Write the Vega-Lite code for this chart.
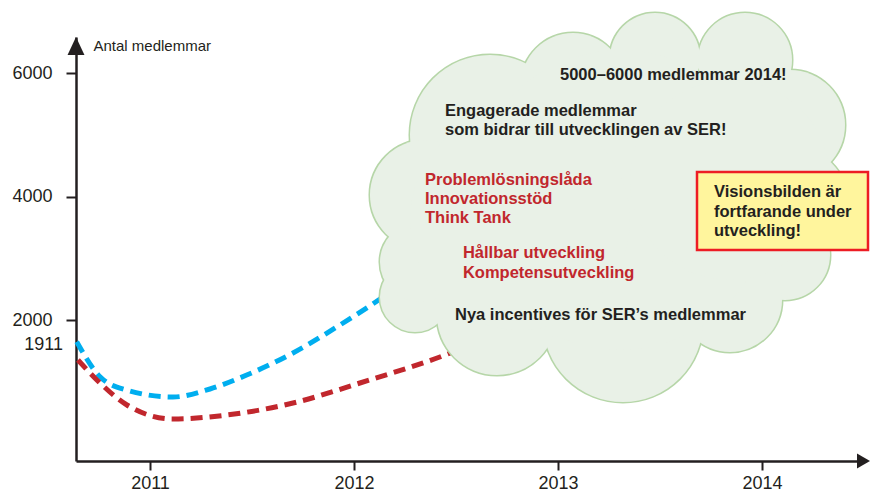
{
  "$schema": "https://vega.github.io/schema/vega-lite/v6.json",
  "width": 781,
  "height": 424,
  "autosize": {"type": "none"},
  "padding": {"left": 76, "top": 37, "right": 13, "bottom": 30},
  "background": "white",
  "config": {"view": {"stroke": null}, "font": "Liberation Sans"},
  "datasets": {
    "kurvor": [
      {"serie": "övre", "x": 2010.6407, "y": 1649},
      {"serie": "övre", "x": 2010.7549, "y": 1082},
      {"serie": "övre", "x": 2010.8858, "y": 866},
      {"serie": "övre", "x": 2011.1127, "y": 753},
      {"serie": "övre", "x": 2011.2941, "y": 883},
      {"serie": "övre", "x": 2011.474, "y": 1109},
      {"serie": "övre", "x": 2011.701, "y": 1466},
      {"serie": "övre", "x": 2011.931, "y": 1919},
      {"serie": "övre", "x": 2012.142, "y": 2372},
      {"serie": "övre", "x": 2012.225, "y": 2567},
      {"serie": "undre", "x": 2010.647, "y": 1352},
      {"serie": "undre", "x": 2010.755, "y": 980},
      {"serie": "undre", "x": 2010.887, "y": 624},
      {"serie": "undre", "x": 2011.113, "y": 397},
      {"serie": "undre", "x": 2011.377, "y": 462},
      {"serie": "undre", "x": 2011.701, "y": 656},
      {"serie": "undre", "x": 2012.029, "y": 980},
      {"serie": "undre", "x": 2012.485, "y": 1482},
      {"serie": "undre", "x": 2012.569, "y": 1595}
    ],
    "moln": [
      {"x": 2012.6667, "y": 4996, "r": 0.3922},
      {"x": 2013.0735, "y": 5806, "r": 0.2549},
      {"x": 2013.4755, "y": 6243, "r": 0.2206},
      {"x": 2013.9167, "y": 6210, "r": 0.2304},
      {"x": 2014.1373, "y": 5158, "r": 0.2696},
      {"x": 2014.1618, "y": 3943, "r": 0.2549},
      {"x": 2014.1127, "y": 3053, "r": 0.2206},
      {"x": 2013.8431, "y": 2324, "r": 0.2549},
      {"x": 2013.3186, "y": 1968, "r": 0.3922},
      {"x": 2012.701, "y": 2081, "r": 0.2941},
      {"x": 2012.299, "y": 2372, "r": 0.1716},
      {"x": 2012.3235, "y": 2939, "r": 0.1961},
      {"x": 2012.348, "y": 4024, "r": 0.2696},
      {"x": 2013.304, "y": 3943, "r": 0.7353},
      {"x": 2012.8137, "y": 3619, "r": 0.5392},
      {"x": 2013.8431, "y": 4267, "r": 0.4902}
    ],
    "texter": [
      {"x": 2013.0098, "y": 5968, "text": "5000–6000 medlemmar 2014!", "typ": "svart"},
      {"x": 2012.446, "y": 5385, "text": "Engagerade medlemmar", "typ": "svart"},
      {"x": 2012.446, "y": 5077, "text": "som bidrar till utvecklingen av SER!", "typ": "svart"},
      {"x": 2012.348, "y": 4267, "text": "Problemlösningslåda", "typ": "röd"},
      {"x": 2012.348, "y": 3959, "text": "Innovationsstöd", "typ": "röd"},
      {"x": 2012.348, "y": 3652, "text": "Think Tank", "typ": "röd"},
      {"x": 2012.534, "y": 3085, "text": "Hållbar utveckling", "typ": "röd"},
      {"x": 2012.534, "y": 2761, "text": "Kompetensutveckling", "typ": "röd"},
      {"x": 2012.495, "y": 2081, "text": "Nya incentives för SER’s medlemmar", "typ": "svart"},
      {"x": 2013.7647, "y": 4073, "text": "Visionsbilden är", "typ": "svart"},
      {"x": 2013.7647, "y": 3749, "text": "fortfarande under", "typ": "svart"},
      {"x": 2013.7647, "y": 3441, "text": "utveckling!", "typ": "svart"}
    ]
  },
  "encoding": {
    "x": {
      "field": "x", "type": "quantitative",
      "scale": {"domain": [2010.6373, 2014.4657], "nice": false, "zero": false},
      "axis": {
        "values": [2011, 2012, 2013, 2014], "format": "d", "title": null, "grid": false,
        "domainColor": "#231f20", "domainWidth": 2.5,
        "tickColor": "#231f20", "tickWidth": 2, "tickSize": 9,
        "labelFontSize": 18, "labelColor": "#231f20", "labelPadding": 4, "labelFont": "Liberation Sans"
      }
    },
    "y": {
      "field": "y", "type": "quantitative",
      "scale": {"domain": [-283, 6583], "nice": false, "zero": false},
      "axis": {
        "values": [2000, 4000, 6000], "format": "d", "grid": false,
        "title": "Antal medlemmar", "titleAngle": 0, "titleAlign": "left", "titleBaseline": "middle",
        "titleX": 17, "titleY": 8, "titleFontSize": 15, "titleFontWeight": "normal", "titleColor": "#231f20", "titleFont": "Liberation Sans",
        "domainColor": "#231f20", "domainWidth": 2.5,
        "tickColor": "#231f20", "tickWidth": 2, "tickSize": 10,
        "labelFontSize": 18, "labelColor": "#231f20", "labelPadding": 14, "labelFont": "Liberation Sans"
      }
    }
  },
  "layer": [
    {
      "data": {"name": "kurvor"},
      "mark": {"type": "line", "interpolate": "monotone", "strokeWidth": 5, "strokeDash": [12, 7], "strokeCap": "butt"},
      "encoding": {
        "color": {"field": "serie", "type": "nominal", "scale": {"domain": ["övre", "undre"], "range": ["#00aeef", "#c1272d"]}, "legend": null}
      }
    },
    {
      "data": {"name": "moln"},
      "mark": {"type": "circle", "fill": "#e9f1e7", "stroke": "#b6d6a8", "strokeWidth": 3, "opacity": 1},
      "encoding": {
        "size": {"field": "r", "type": "quantitative", "scale": {"type": "pow", "exponent": 2, "domain": [0, 1], "range": [0, 166464]}, "legend": null}
      }
    },
    {
      "data": {"name": "moln"},
      "mark": {"type": "circle", "fill": "#e9f1e7", "strokeWidth": 0, "opacity": 1},
      "encoding": {
        "size": {"field": "r", "type": "quantitative", "scale": {"type": "pow", "exponent": 2, "domain": [0, 1], "range": [0, 166464]}, "legend": null}
      }
    },
    {
      "data": {"values": [{"x": 2013.6814, "x2": 2014.5196, "y": 4397, "y2": 3134}]},
      "mark": {"type": "rect", "fill": "#fff59d", "stroke": "#ed1c24", "strokeWidth": 2.5},
      "encoding": {"x2": {"field": "x2"}, "y2": {"field": "y2"}}
    },
    {
      "data": {"name": "texter"},
      "mark": {"type": "text", "align": "left", "baseline": "middle", "font": "Liberation Sans", "fontWeight": "bold", "fontSize": 16.5},
      "encoding": {
        "text": {"field": "text"},
        "color": {"field": "typ", "type": "nominal", "scale": {"domain": ["svart", "röd"], "range": ["#231f20", "#c1272d"]}, "legend": null}
      }
    },
    {
      "data": {"values": [{"x": 2010.5735, "y": 1595, "text": "1911"}]},
      "mark": {"type": "text", "align": "right", "baseline": "middle", "font": "Liberation Sans", "fontSize": 18, "color": "#231f20"},
      "encoding": {"text": {"field": "text"}}
    },
    {
      "data": {"values": [{"x": 2010.6373, "y": 6583}]},
      "mark": {"type": "point", "shape": "M0,0L0.47,1L-0.47,1Z", "filled": true, "size": 1296, "color": "#231f20", "opacity": 1}
    },
    {
      "data": {"values": [{"x": 2014.4657, "y": -283}]},
      "mark": {"type": "point", "shape": "M1,0L0,0.58L0,-0.58Z", "filled": true, "size": 676, "color": "#231f20", "opacity": 1}
    }
  ],
  "resolve": {"scale": {"color": "independent"}}
}
